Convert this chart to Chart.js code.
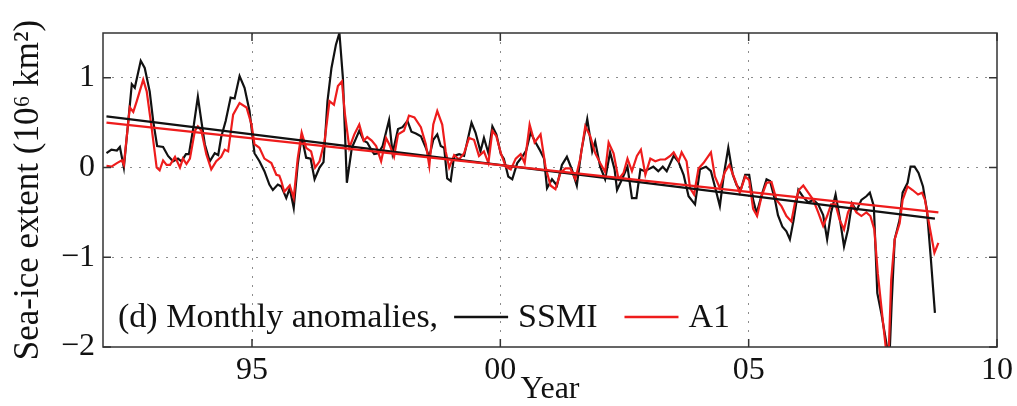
<!DOCTYPE html>
<html>
<head>
<meta charset="utf-8">
<script src="https://cdn.jsdelivr.net/npm/chart.js@4.4.1/dist/chart.umd.min.js"></script>
<style>
  html, body { margin: 0; padding: 0; background: #fff; }
</style>
</head>
<body>
<canvas id="seaIce" width="1017" height="406"></canvas>
<script>
'use strict';

// monthly anomalies (decimal year, 10^6 km2)
let ssmiYears = [
  1992.07, 1992.17, 1992.28, 1992.34, 1992.42, 1992.58, 1992.64, 1992.76, 1992.84, 1992.94,
  1993.01, 1993.09, 1993.21, 1993.31, 1993.41, 1993.51, 1993.58, 1993.67, 1993.73, 1993.83,
  1993.91, 1993.98, 1994.05, 1994.15, 1994.25, 1994.32, 1994.38, 1994.47, 1994.57, 1994.65,
  1994.75, 1994.85, 1994.95, 1995.05, 1995.15, 1995.25, 1995.35, 1995.42, 1995.52, 1995.59,
  1995.69, 1995.76, 1995.84, 1995.92, 1996.00, 1996.09, 1996.18, 1996.26, 1996.36, 1996.44,
  1996.52, 1996.60, 1996.69, 1996.76, 1996.83, 1996.91, 1997.01, 1997.09, 1997.16, 1997.25,
  1997.32, 1997.40, 1997.46, 1997.54, 1997.63, 1997.76, 1997.83, 1997.94, 1998.03, 1998.13,
  1998.21, 1998.30, 1998.40, 1998.50, 1998.57, 1998.65, 1998.73, 1998.80, 1998.87, 1998.93,
  1999.00, 1999.07, 1999.17, 1999.27, 1999.42, 1999.50, 1999.60, 1999.67, 1999.76, 1999.84,
  1999.92, 2000.01, 2000.07, 2000.16, 2000.24, 2000.34, 2000.44, 2000.52, 2000.61, 2000.71,
  2000.79, 2000.88, 2000.94, 2001.04, 2001.14, 2001.24, 2001.34, 2001.44, 2001.54, 2001.63,
  2001.75, 2001.85, 2001.91, 2002.01, 2002.11, 2002.21, 2002.30, 2002.35, 2002.45, 2002.56,
  2002.65, 2002.74, 2002.82, 2002.90, 2002.98, 2003.08, 2003.18, 2003.27, 2003.35, 2003.49,
  2003.59, 2003.69, 2003.79, 2003.92, 2004.02, 2004.14, 2004.24, 2004.32, 2004.42, 2004.50,
  2004.59, 2004.68, 2004.76, 2004.84, 2004.93, 2005.01, 2005.09, 2005.16, 2005.26, 2005.36,
  2005.43, 2005.53, 2005.59, 2005.68, 2005.76, 2005.83, 2005.90, 2006.00, 2006.10, 2006.20,
  2006.30, 2006.40, 2006.50, 2006.58, 2006.66, 2006.75, 2006.83, 2006.92, 2007.00, 2007.08,
  2007.17, 2007.27, 2007.37, 2007.44, 2007.52, 2007.59, 2007.67, 2007.74, 2007.80, 2007.84,
  2007.88, 2007.94, 2008.04, 2008.10, 2008.20, 2008.26, 2008.34, 2008.42, 2008.51, 2008.59,
  2008.67, 2008.75
];
let ssmiValues = [
  0.16, 0.20, 0.19, 0.23, 0.00, 0.93, 0.89, 1.19, 1.11, 0.85,
  0.52, 0.24, 0.23, 0.13, 0.07, 0.10, 0.07, 0.15, 0.15, 0.48,
  0.79, 0.52, 0.26, 0.07, 0.16, 0.14, 0.34, 0.52, 0.78, 0.77,
  1.02, 0.89, 0.63, 0.16, 0.07, -0.04, -0.19, -0.25, -0.19, -0.21,
  -0.34, -0.23, -0.45, 0.03, 0.35, 0.11, 0.10, -0.13, 0.00, 0.06,
  0.74, 1.11, 1.37, 1.50, 1.00, -0.17, 0.22, 0.32, 0.41, 0.30,
  0.28, 0.20, 0.15, 0.16, 0.24, 0.53, 0.16, 0.43, 0.45, 0.52,
  0.40, 0.38, 0.35, 0.22, 0.12, 0.31, 0.37, 0.24, 0.22, -0.12,
  -0.15, 0.13, 0.15, 0.13, 0.50, 0.39, 0.18, 0.33, 0.16, 0.46,
  0.37, 0.15, 0.10, -0.10, -0.13, 0.05, 0.12, 0.19, 0.39, 0.28,
  0.20, 0.10, -0.23, -0.13, -0.20, 0.03, 0.12, -0.02, -0.20, 0.18,
  0.54, 0.18, 0.29, 0.01, -0.13, 0.17, -0.02, -0.25, -0.13, 0.01,
  -0.34, -0.34, -0.02, -0.04, -0.02, 0.01, -0.04, 0.01, -0.04, 0.13,
  0.06, -0.08, -0.32, -0.41, -0.02, 0.01, -0.04, -0.21, -0.43, -0.08,
  0.22, -0.08, -0.20, -0.25, -0.08, -0.08, -0.36, -0.51, -0.31, -0.13,
  -0.15, -0.36, -0.53, -0.66, -0.71, -0.80, -0.60, -0.25, -0.33, -0.39,
  -0.36, -0.41, -0.53, -0.80, -0.50, -0.30, -0.55, -0.88, -0.69, -0.40,
  -0.48, -0.36, -0.32, -0.28, -0.43, -1.40, -1.62, -1.85, -2.05, -2.05,
  -1.50, -0.80, -0.58, -0.28, -0.17, 0.01, 0.01, -0.06, -0.21, -0.48,
  -1.03, -1.62
];

let a1Years = [
  1992.07, 1992.17, 1992.28, 1992.38, 1992.42, 1992.54, 1992.61, 1992.68, 1992.81, 1992.88,
  1992.98, 1993.08, 1993.14, 1993.21, 1993.28, 1993.35, 1993.45, 1993.55, 1993.61, 1993.68,
  1993.75, 1993.85, 1993.91, 1993.98, 1994.08, 1994.18, 1994.28, 1994.38, 1994.45, 1994.52,
  1994.62, 1994.75, 1994.89, 1994.99, 1995.05, 1995.15, 1995.25, 1995.39, 1995.49, 1995.55,
  1995.59, 1995.65, 1995.76, 1995.84, 1995.92, 1996.00, 1996.09, 1996.19, 1996.27, 1996.36,
  1996.46, 1996.56, 1996.65, 1996.73, 1996.81, 1996.87, 1996.96, 1997.06, 1997.16, 1997.25,
  1997.32, 1997.41, 1997.50, 1997.60, 1997.70, 1997.78, 1997.86, 1997.94, 1998.06, 1998.16,
  1998.27, 1998.40, 1998.50, 1998.57, 1998.65, 1998.73, 1998.83, 1998.90, 1998.97, 1999.07,
  1999.17, 1999.27, 1999.37, 1999.47, 1999.57, 1999.67, 1999.76, 1999.84, 1999.92, 2000.01,
  2000.11, 2000.21, 2000.31, 2000.41, 2000.49, 2000.59, 2000.69, 2000.81, 2000.91, 2001.01,
  2001.11, 2001.21, 2001.31, 2001.41, 2001.51, 2001.61, 2001.71, 2001.81, 2001.91, 2002.01,
  2002.11, 2002.18, 2002.28, 2002.38, 2002.48, 2002.56, 2002.65, 2002.75, 2002.83, 2002.92,
  2003.02, 2003.12, 2003.22, 2003.32, 2003.42, 2003.49, 2003.59, 2003.65, 2003.75, 2003.82,
  2003.90, 2003.99, 2004.09, 2004.24, 2004.32, 2004.42, 2004.52, 2004.61, 2004.72, 2004.82,
  2004.93, 2005.01, 2005.09, 2005.17, 2005.26, 2005.36, 2005.46, 2005.56, 2005.66, 2005.76,
  2005.86, 2005.93, 2006.01, 2006.10, 2006.20, 2006.30, 2006.40, 2006.50, 2006.58, 2006.66,
  2006.75, 2006.83, 2006.92, 2007.00, 2007.08, 2007.17, 2007.27, 2007.37, 2007.45, 2007.53,
  2007.60, 2007.70, 2007.77, 2007.82, 2007.87, 2007.94, 2008.04, 2008.10, 2008.20, 2008.30,
  2008.41, 2008.49, 2008.55, 2008.64, 2008.74, 2008.82
];
let a1Values = [
  0.02, 0.01, 0.05, 0.08, 0.03, 0.67, 0.62, 0.74, 0.98, 0.85,
  0.44, 0.00, -0.03, 0.08, 0.03, 0.03, 0.12, 0.00, 0.10, 0.04,
  0.10, 0.41, 0.46, 0.41, 0.15, -0.02, 0.07, 0.12, 0.20, 0.18,
  0.59, 0.72, 0.67, 0.48, 0.26, 0.22, 0.10, 0.05, -0.08, -0.09,
  -0.15, -0.27, -0.20, -0.34, 0.10, 0.39, 0.22, 0.18, 0.00, 0.07,
  0.29, 0.74, 0.70, 0.91, 0.96, 0.60, 0.22, 0.37, 0.48, 0.30,
  0.34, 0.30, 0.24, 0.07, 0.33, 0.24, 0.12, 0.37, 0.41, 0.58,
  0.56, 0.45, 0.26, 0.02, 0.48, 0.63, 0.48, 0.18, 0.00, 0.14,
  0.09, 0.16, 0.33, 0.31, 0.13, 0.18, 0.05, 0.41, 0.35, 0.16,
  0.01, -0.02, 0.10, 0.15, 0.05, 0.48, 0.28, 0.37, 0.01, -0.20,
  -0.24, -0.06, -0.01, -0.01, -0.13, 0.10, 0.46, 0.35, 0.16, 0.05,
  -0.05, 0.28, 0.16, -0.13, -0.06, 0.10, -0.04, 0.13, 0.20, -0.08,
  0.10, 0.07, 0.09, 0.09, 0.13, 0.17, 0.07, 0.17, 0.07, -0.23,
  -0.30, -0.01, 0.05, 0.17, -0.10, -0.23, -0.05, 0.03, -0.13, -0.28,
  -0.10, -0.14, -0.46, -0.54, -0.32, -0.17, -0.16, -0.36, -0.43, -0.54,
  -0.60, -0.40, -0.25, -0.20, -0.28, -0.36, -0.50, -0.65, -0.54, -0.41,
  -0.41, -0.58, -0.69, -0.50, -0.41, -0.50, -0.54, -0.50, -0.54, -0.69,
  -1.18, -1.70, -2.05, -2.05, -1.25, -0.80, -0.62, -0.36, -0.21, -0.25,
  -0.30, -0.28, -0.36, -0.65, -0.95, -0.84
];

// linear trends (end points)
let ssmiTrendYears = [1992.07, 2008.75];
let ssmiTrendValues = [0.57, -0.57];
let a1TrendYears = [1992.07, 2008.82];
let a1TrendValues = [0.50, -0.50];

let yearTicks = [1995, 2000, 2005, 2010];
let extentTicks = [-2, -1, 0, 1];

let serif = "'Liberation Serif', 'Times New Roman', serif";
let fontSize = 32;

function toPoints(xs, ys) {
    return xs.map((x, i) => ({ x: x, y: ys[i] }));
}

function yearLabel(v) {
    return String(v).slice(2);
}

function extentLabel(v) {
    return v < 0 ? '\u2212' + Math.abs(v) : String(v);
}

// frame round the plot with small inward ticks on every side
let framePlugin = {
    id: 'frame',
    afterDatasetsDraw(chart) {
        let ctx = chart.ctx;
        let a = chart.chartArea;
        let xs = chart.scales.x;
        let ys = chart.scales.y;
        let len = 8;
        ctx.save();
        ctx.strokeStyle = '#333';
        ctx.lineWidth = 1.5;
        ctx.strokeRect(a.left, a.top, a.right - a.left, a.bottom - a.top);
        ctx.beginPath();
        yearTicks.forEach(v => {
            let px = xs.getPixelForValue(v);
            ctx.moveTo(px, a.bottom);
            ctx.lineTo(px, a.bottom - len);
            ctx.moveTo(px, a.top);
            ctx.lineTo(px, a.top + len);
        });
        extentTicks.forEach(v => {
            let py = ys.getPixelForValue(v);
            ctx.moveTo(a.left, py);
            ctx.lineTo(a.left + len, py);
            ctx.moveTo(a.right, py);
            ctx.lineTo(a.right - len, py);
        });
        ctx.stroke();
        ctx.restore();
    },
    afterDraw(chart) {
        // legend inside the plot, lower left
        let ctx = chart.ctx;
        let a = chart.chartArea;
        let sets = chart.data.datasets;
        let x = a.left + 15;
        let y = a.bottom - 20;
        ctx.save();
        ctx.font = '34px ' + serif;
        ctx.fillStyle = '#111';
        ctx.textBaseline = 'alphabetic';
        let lead = '(d) Monthly anomalies,';
        ctx.fillText(lead, x, y);
        x += ctx.measureText(lead).width + 16;
        [sets[0], sets[1]].forEach(ds => {
            ctx.strokeStyle = ds.borderColor;
            ctx.lineWidth = 2.5;
            ctx.beginPath();
            ctx.moveTo(x, y - 10);
            ctx.lineTo(x + 54, y - 10);
            ctx.stroke();
            x += 54 + 10;
            ctx.fillText(ds.label, x, y);
            x += ctx.measureText(ds.label).width + 27;
        });
        ctx.restore();
    }
};

let data = {
    datasets: [{
        label: 'SSMI',
        data: toPoints(ssmiYears, ssmiValues),
        borderColor: '#111111',
        borderWidth: 2.2,
        order: 3
    }, {
        label: 'A1',
        data: toPoints(a1Years, a1Values),
        borderColor: '#ee1c1c',
        borderWidth: 2.2,
        order: 2
    }, {
        label: 'SSMI trend',
        data: toPoints(ssmiTrendYears, ssmiTrendValues),
        borderColor: '#111111',
        borderWidth: 2.2,
        order: 1
    }, {
        label: 'A1 trend',
        data: toPoints(a1TrendYears, a1TrendValues),
        borderColor: '#ee1c1c',
        borderWidth: 2.2,
        order: 0
    }]
};

let config = {
    type: 'line',
    data: data,
    options: {
        responsive: false,
        animation: false,
        devicePixelRatio: 1,
        layout: { padding: { top: 33, right: 18, left: 0, bottom: 0 } },
        elements: {
            point: { radius: 0 },
            line: { tension: 0, fill: false }
        },
        plugins: {
            legend: { display: false },
            tooltip: { enabled: false }
        },
        scales: {
            x: {
                type: 'linear',
                min: 1992,
                max: 2010,
                afterBuildTicks: s => { s.ticks = yearTicks.map(v => ({ value: v })); },
                afterFit: s => { s.height = 59; },
                ticks: {
                    callback: yearLabel,
                    color: '#111',
                    font: { family: serif, size: fontSize },
                    padding: 4,
                    maxRotation: 0
                },
                grid: {
                    color: c => (c.tick && c.tick.value === 2010) ? 'rgba(0,0,0,0)' : '#8c8c8c',
                    lineWidth: 1,
                    drawTicks: false
                },
                border: { display: false, dash: [2, 7] },
                title: {
                    display: true,
                    text: 'Year',
                    color: '#111',
                    font: { family: serif, size: fontSize, lineHeight: 1 },
                    padding: 0
                }
            },
            y: {
                min: -2,
                max: 1.5,
                afterBuildTicks: s => { s.ticks = extentTicks.map(v => ({ value: v })); },
                afterFit: s => { s.width = 103; },
                ticks: {
                    callback: extentLabel,
                    color: '#111',
                    font: { family: serif, size: fontSize },
                    padding: 8
                },
                grid: {
                    color: c => (c.tick && c.tick.value === -2) ? 'rgba(0,0,0,0)' : '#8c8c8c',
                    lineWidth: 1,
                    drawTicks: false
                },
                border: { display: false, dash: [2, 7] },
                title: {
                    display: true,
                    text: 'Sea-ice extent (10\u2076 km\u00b2)',
                    color: '#111',
                    font: { family: serif, size: 35, lineHeight: 1.1 },
                    padding: { top: 10, bottom: 0 }
                }
            }
        }
    },
    plugins: [framePlugin]
};

let myChart = new Chart(document.getElementById('seaIce'), config);
</script>
</body>
</html>
